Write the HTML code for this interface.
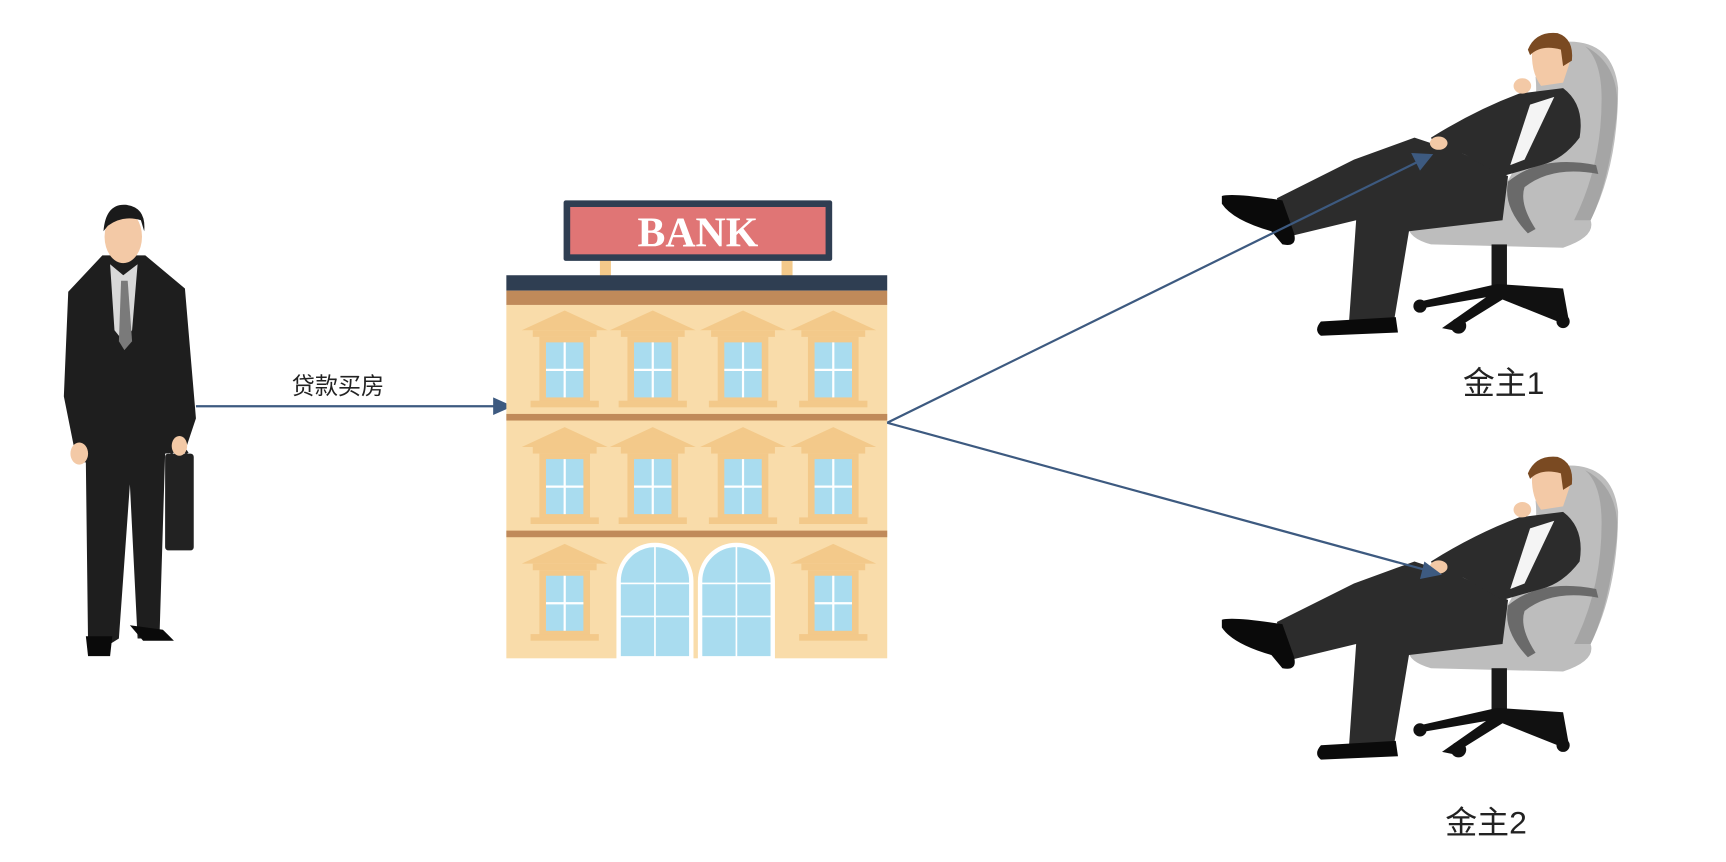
<!DOCTYPE html>
<html><head><meta charset="utf-8"><style>
html,body{margin:0;padding:0;background:#fff;width:1726px;height:862px;overflow:hidden}
svg{display:block}
</style></head><body>
<svg width="1726" height="862" viewBox="0 0 1568 783" xmlns="http://www.w3.org/2000/svg">
<defs>
<g id="seated">
  <path d="M1420 38 Q1465 35 1470 80 Q1470 150 1445 200 Q1450 215 1420 225 L1300 222 Q1275 215 1280 200 L1360 180 Q1400 120 1395 70 Z" fill="#bdbdbd"/>
  <path d="M1440 42 Q1475 60 1468 110 Q1460 170 1445 200 L1430 200 Q1455 150 1455 90 Q1455 55 1440 42Z" fill="#a5a5a5"/>
  <rect x="1355" y="222" width="14" height="40" fill="#1a1a1a"/>
  <path d="M1285 275 L1360 258 L1420 262 L1425 290 L1415 292 L1365 272 L1320 300 L1310 298 L1350 270 L1292 280Z" fill="#111"/>
  <circle cx="1290" cy="278" r="6" fill="#111"/><circle cx="1325" cy="296" r="7" fill="#111"/><circle cx="1420" cy="292" r="6" fill="#111"/>
  <path d="M1370 165 Q1400 140 1450 150 L1452 158 Q1410 150 1385 170 Q1380 185 1395 208 L1388 212 Q1365 188 1370 165Z" fill="#6a6a6a"/>
  <path d="M1160 180 L1230 145 L1285 125 L1330 140 L1370 160 L1365 200 L1280 210 L1265 300 L1225 300 L1232 200 L1170 215 Z" fill="#2c2c2c"/>
  <path d="M1110 178 Q1120 175 1165 182 L1175 210 Q1180 225 1165 222 L1155 210 Q1120 200 1110 185Z" fill="#0a0a0a"/>
  <path d="M1200 292 L1268 288 L1270 302 L1200 305 Q1193 300 1200 292Z" fill="#0a0a0a"/>
  <path d="M1300 125 Q1340 100 1380 85 L1420 80 Q1440 95 1435 125 Q1420 145 1400 150 L1365 160 L1330 140 L1305 135Z" fill="#2c2c2c"/>
  <path d="M1390 95 L1412 88 L1385 145 L1372 150Z" fill="#f4f4f4"/>
  <path d="M1392 42 Q1405 28 1422 35 Q1430 45 1425 60 L1420 75 L1400 78 Q1390 65 1392 42Z" fill="#f3c9a6"/>
  <path d="M1388 45 Q1395 28 1415 30 Q1430 35 1428 55 L1420 60 L1418 45 Q1400 40 1390 50Z" fill="#7a4a22"/>
  <ellipse cx="1383" cy="78" rx="8" ry="7" fill="#f3c9a6"/>
  <ellipse cx="1307" cy="130" rx="8" ry="6" fill="#f3c9a6"/>
</g>
</defs>

<g>
  <path d="M93 232 L132 232 L168 262 L178 380 L168 410 L150 412 L145 575 L155 580 L125 580 L118 440 L108 580 L100 585 L80 585 L78 420 L70 420 L58 360 L62 265Z" fill="#1e1e1e"/>
  <path d="M100 240 L112 250 L125 240 L120 300 L112 310 L104 300Z" fill="#d8d8d8"/>
  <path d="M110 255 L116 255 L120 310 L113 318 L108 310Z" fill="#7a7a7a"/>
  <ellipse cx="112" cy="215" rx="17" ry="24" fill="#f3c9a6"/>
  <path d="M94 210 Q96 185 114 186 Q133 188 131 210 L128 200 Q112 195 98 205Z" fill="#1a1a1a"/>
  <rect x="150" y="412" width="26" height="88" rx="3" fill="#222"/>
  <path d="M155 412 Q163 400 170 412" fill="none" stroke="#222" stroke-width="3"/>
  <ellipse cx="72" cy="412" rx="8" ry="10" fill="#f3c9a6"/>
  <ellipse cx="163" cy="405" rx="7" ry="9" fill="#f3c9a6"/>
  <path d="M78 578 L102 578 L100 596 L80 596Z" fill="#0a0a0a"/>
  <path d="M118 568 L148 572 L158 582 L130 582Z" fill="#0a0a0a"/>
</g>

<line x1="178" y1="369" x2="452" y2="369" stroke="#3d5a80" stroke-width="2"/>
<polygon points="466,369 448,361 448,377" fill="#3d5a80"/>
<text x="307" y="358" font-family="Liberation Sans, Noto Sans CJK SC, sans-serif" font-size="21" fill="#222" text-anchor="middle">贷款买房</text>

<g>
  <rect x="545" y="236" width="10" height="15" fill="#f3c98a"/>
  <rect x="710" y="236" width="10" height="15" fill="#f3c98a"/>
  <rect x="512" y="182" width="244" height="55" fill="#2f3e52" rx="2"/>
  <rect x="518" y="188" width="232" height="43" fill="#e07575"/>
  <text x="634" y="224" font-family="Liberation Serif, serif" font-size="38" fill="#fff" text-anchor="middle" font-weight="bold">BANK</text>
  <rect x="460" y="250" width="346" height="14" fill="#2f3e52"/>
  <rect x="460" y="264" width="346" height="13" fill="#c08a5a"/>
  <rect x="460" y="277" width="346" height="321" fill="#f9dcaa"/>
  <rect x="460" y="376" width="346" height="6" fill="#c08a5a"/>
  <rect x="460" y="482" width="346" height="6" fill="#c08a5a"/>
  <g id="win">
    <polygon points="474,300 513,282 552,300" fill="#f3c98a"/>
    <rect x="484" y="300" width="58" height="6" fill="#f3c98a"/>
    <rect x="490" y="306" width="46" height="60" fill="#f3c98a"/>
    <rect x="496" y="311" width="34" height="50" fill="#a9dcef"/>
    <path d="M513 311 V361 M496 336 H530" stroke="#fff" stroke-width="2"/>
    <rect x="482" y="364" width="62" height="6" fill="#f3c98a"/>
  </g>
  <use href="#win" x="80"/><use href="#win" x="162"/><use href="#win" x="244"/>
  <use href="#win" y="106"/><use href="#win" x="80" y="106"/><use href="#win" x="162" y="106"/><use href="#win" x="244" y="106"/>
  <use href="#win" y="212"/><use href="#win" x="244" y="212"/>
  <path d="M562 598 V528 A33 33 0 0 1 628 528 V598Z" fill="#a9dcef" stroke="#fff" stroke-width="4"/>
  <path d="M636 598 V528 A33 33 0 0 1 702 528 V598Z" fill="#a9dcef" stroke="#fff" stroke-width="4"/>
  <path d="M595 495 V598 M669 495 V598 M562 530 H628 M636 530 H702 M562 560 H628 M636 560 H702" stroke="#fff" stroke-width="1.5"/>
</g>

<use href="#seated"/>
<use href="#seated" y="385"/>

<line x1="806" y1="384" x2="1290" y2="146" stroke="#3d5a80" stroke-width="2"/>
<polygon points="1302,140 1282,139 1290,155" fill="#3d5a80"/>
<line x1="806" y1="384" x2="1296" y2="518" stroke="#3d5a80" stroke-width="2"/>
<polygon points="1310,522 1294,510 1290,526" fill="#3d5a80"/>

<text x="1366" y="358" font-family="Liberation Sans, Noto Sans CJK SC, sans-serif" font-size="29" fill="#222" text-anchor="middle">金主1</text>
<text x="1350" y="757" font-family="Liberation Sans, Noto Sans CJK SC, sans-serif" font-size="29" fill="#222" text-anchor="middle">金主2</text>
</svg>
</body></html>
